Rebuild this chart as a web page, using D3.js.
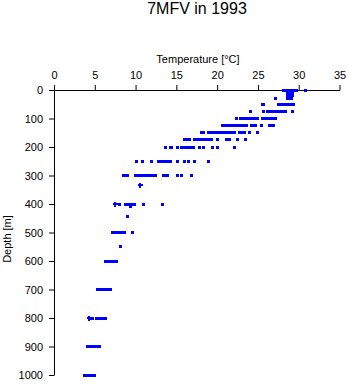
<!DOCTYPE html>
<html>
<head>
<meta charset="utf-8">
<script src="https://cdn.jsdelivr.net/npm/d3@7"></script>
<style>
  html, body { margin: 0; padding: 0; background: #fff; }
  svg { display: block; }
  text { font-family: "Liberation Sans", Arial, sans-serif; }
</style>
</head>
<body>
<svg id="chart" width="348" height="384"></svg>
<script>
// ---- data ----
const title = "7MFV in 1993";
const xLabel = "Temperature [°C]";
const yLabel = "Depth [m]";
const tempTicks = [0, 5, 10, 15, 20, 25, 30, 35];
const depthTicks = [0, 100, 200, 300, 400, 500, 600, 700, 800, 900, 1000];

// observed sampling depths [m]
const sampleDepths = [0, 10, 20, 30, 50, 75, 100, 125, 150, 175, 200, 250, 300, 400, 500, 600, 700, 800, 900, 1000];
// temperature runs [°C] observed at each depth (outer edges of dense overlapping observations)
const tempRuns = [
  [[27.9, 29.9]],
  [[28.5, 29.5]],
  [[28.5, 29.5]],
  [[28.5, 29.4]],
  [[25.4, 25.9], [27.3, 29.5]],
  [[23.9, 24.2], [25.5, 25.7], [26.0, 28.6], [29.1, 29.3]],
  [[22.2, 22.5], [22.7, 25.2], [25.4, 27.4]],
  [[20.5, 23.8], [24.0, 24.9], [25.2, 25.6], [26.2, 27.0]],
  [[17.9, 18.5], [18.7, 22.3], [22.6, 23.6], [23.8, 24.2], [24.8, 25.0]],
  [[15.8, 16.8], [17.0, 19.4], [19.9, 20.2], [21.0, 21.7], [22.3, 22.6], [23.3, 23.6]],
  [[13.5, 13.8], [14.1, 14.6], [14.9, 15.1], [15.4, 17.2], [17.6, 18.0], [18.2, 18.6], [19.2, 19.6], [19.9, 20.3], [22.0, 22.3]],
  [[9.9, 10.3], [10.7, 10.9], [11.8, 12.1], [12.6, 14.5], [15.0, 15.2], [15.8, 16.1], [16.3, 16.7], [17.0, 17.3], [18.7, 19.1]],
  [[8.3, 9.2], [9.8, 12.6], [13.2, 14.0], [14.9, 15.3], [15.4, 15.8], [16.7, 17.0]],
  [[7.9, 8.3], [8.6, 10.1], [10.8, 11.2], [13.1, 13.4]],
  [[7.0, 8.9], [9.5, 9.7]],
  [[6.1, 7.8]],
  [[5.1, 7.1]],
  [[4.4, 4.9], [5.0, 6.5]],
  [[3.9, 5.8]],
  [[3.6, 5.2]]
];
// isolated observations [depth m, temperature °C]
const singleObs = [[0, 30.8], [30, 27.1], [410, 9.4], [445, 9.0], [550, 8.1]];
// observations drawn with a cross marker [depth m, temperature °C]
const crossObs = [[333, 10.6], [400, 7.5], [800, 4.3]];

// ---- drawing ----
const svg = d3.select("#chart");
const x = d3.scaleLinear().domain([0, 35]).range([54, 339.5]);
const y = d3.scaleLinear().domain([0, 1000]).range([90, 375]);
const blue = "#0000ff";

svg.append("text")
  .attr("x", 197).attr("y", 14)
  .attr("text-anchor", "middle")
  .attr("font-size", 16)
  .text(title);

svg.append("text")
  .attr("x", 198).attr("y", 63)
  .attr("text-anchor", "middle")
  .attr("font-size", 11)
  .text(xLabel);

svg.append("text")
  .attr("transform", `translate(11,239) rotate(-90)`)
  .attr("text-anchor", "middle")
  .attr("font-size", 11)
  .text(yLabel);

const gx = svg.append("g")
  .attr("transform", `translate(0,${y(0)})`)
  .call(d3.axisTop(x).tickValues(tempTicks).tickFormat(d3.format("d"))
    .tickSize(5).tickSizeOuter(0).tickPadding(6));
const gy = svg.append("g")
  .attr("transform", `translate(${x(0)},0)`)
  .call(d3.axisLeft(y).tickValues(depthTicks).tickFormat(d3.format("d"))
    .tickSize(5).tickSizeOuter(0).tickPadding(6));
[gx, gy].forEach(g => {
  g.selectAll("text").attr("font-size", 11).attr("font-family", '"Liberation Sans", Arial, sans-serif').attr("fill", "#000");
  g.selectAll("line, path").attr("stroke", "#000");
});

const runs = [];
sampleDepths.forEach((d, i) => tempRuns[i].forEach(r => runs.push({ d, t0: r[0], t1: r[1] })));

const marks = svg.append("g").attr("fill", blue);
marks.selectAll("rect.run").data(runs).join("rect")
  .attr("class", "run")
  .attr("x", r => Math.round(x(r.t0)))
  .attr("y", r => Math.round(y(r.d) - 1.5))
  .attr("width", r => Math.max(3, Math.round(x(r.t1) - x(r.t0))))
  .attr("height", 3);

marks.selectAll("rect.pt").data(singleObs).join("rect")
  .attr("class", "pt")
  .attr("x", p => Math.round(x(p[1]) - 1.5))
  .attr("y", p => Math.round(y(p[0]) - 1.5))
  .attr("width", 3).attr("height", 3);

const crosses = svg.append("g").attr("fill", blue);
crossObs.forEach(p => {
  const cx = Math.round(x(p[1])), cy = Math.round(y(p[0]));
  crosses.append("rect").attr("x", cx - 2).attr("y", cy - 1).attr("width", 5).attr("height", 2);
  crosses.append("rect").attr("x", cx - 1).attr("y", cy - 2).attr("width", 2).attr("height", 5);
});
</script>
</body>
</html>
